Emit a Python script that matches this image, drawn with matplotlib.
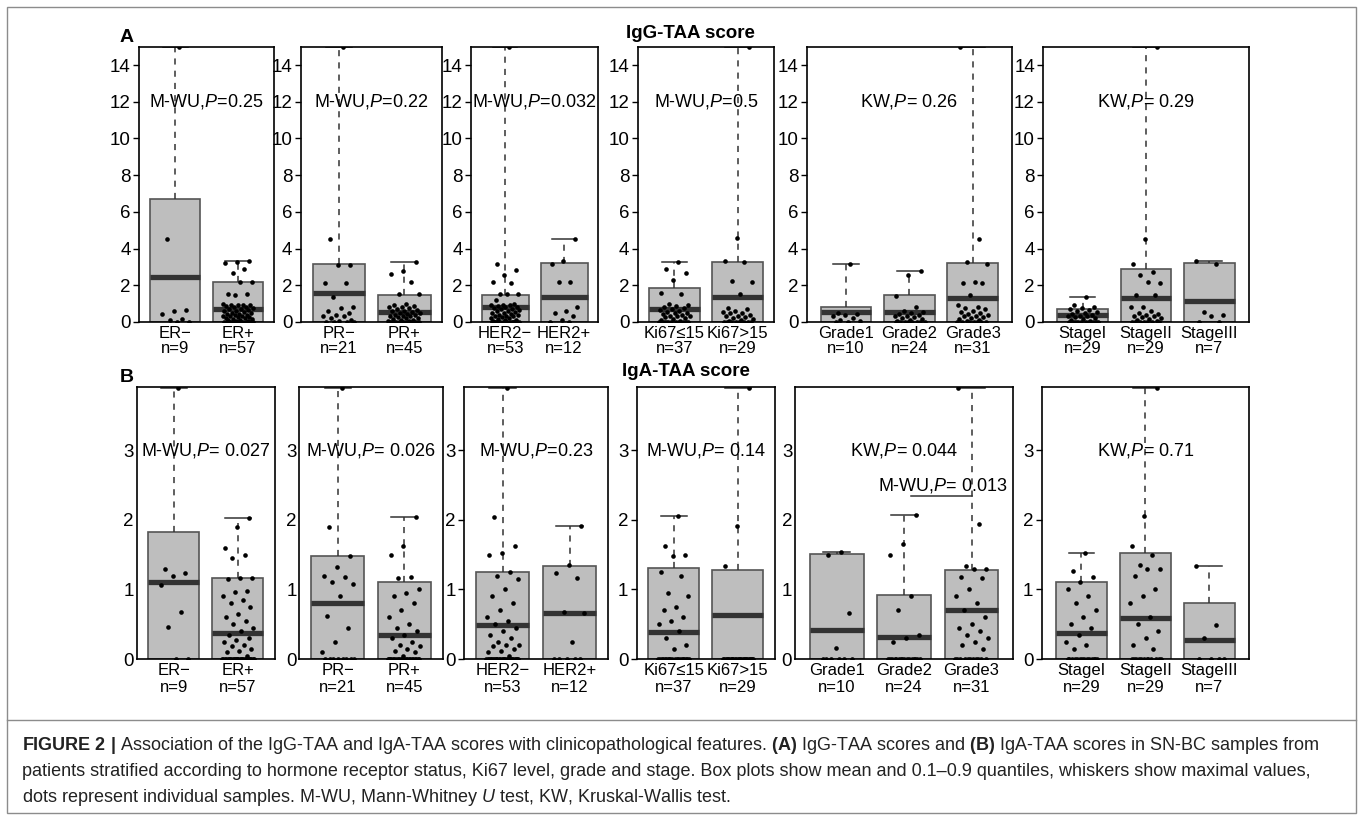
import numpy as np
import matplotlib
matplotlib.use('Agg')
import matplotlib.pyplot as plt
from matplotlib.patches import Rectangle
from matplotlib.lines import Line2D

plt.rcParams['font.family'] = ['Liberation Sans', 'DejaVu Sans']
plt.rcParams['mathtext.fontset'] = 'custom'
plt.rcParams['mathtext.rm'] = 'Liberation Sans'
plt.rcParams['mathtext.it'] = 'Liberation Sans:italic'
plt.rcParams['mathtext.bf'] = 'Liberation Sans:bold'

W, H = 1360, 815

# ---------------- data ----------------
group_labels = [["ER\u2212", "ER+"], ["PR\u2212", "PR+"], ["HER2\u2212", "HER2+"],
                ["Ki67\u226415", "Ki67>15"], ["Grade1", "Grade2", "Grade3"],
                ["StageI", "StageII", "StageIII"]]
group_n = [[9, 57], [21, 45], [53, 12], [37, 29], [10, 24, 31], [29, 29, 7]]

# IgG-TAA score: mean and 0.9 quantile of each group (0.1 quantile is 0)
igg_mean = [[2.47, 0.69], [1.56, 0.53], [0.83, 1.38], [0.69, 1.38],
            [0.56, 0.56, 1.29], [0.38, 1.29, 1.16]]
igg_q90 = [[6.68, 2.2], [3.16, 1.47], [1.47, 3.23], [1.85, 3.25],
           [0.83, 1.47, 3.19], [0.69, 2.9, 3.19]]
igg_tests = ["M-WU,$\\it{P}$=0.25", "M-WU,$\\it{P}$=0.22", "M-WU,$\\it{P}$=0.032",
             "M-WU,$\\it{P}$=0.5", "KW,$\\it{P}$= 0.26", "KW,$\\it{P}$= 0.29"]

igg_er = [[15.0, 4.5, 0.65, 0.6, 0.45, 0.15, 0.1, 0, 0],
          [3.3, 3.25, 3.2, 2.9, 2.65, 2.2, 2.2, 1.55, 1.5, 1.45, 1.0, 0.95, 0.95, 0.9, 0.9,
           0.85, 0.8, 0.8, 0.75, 0.7, 0.7, 0.65, 0.6, 0.6, 0.55, 0.5, 0.5, 0.45, 0.45, 0.4,
           0.4, 0.35, 0.3, 0.3, 0.25, 0.25, 0.2, 0.2, 0.15, 0.15, 0.1, 0.1, 0.05, 0.05,
           0, 0, 0, 0, 0, 0, 0, 0, 0, 0, 0, 0, 0]]
igg_pr = [[15.0, 4.5, 3.1, 3.1, 2.1, 2.1, 1.35, 0.8, 0.75, 0.6, 0.5, 0.4, 0.3, 0.3, 0.2,
           0.1, 0.05, 0, 0, 0, 0],
          [3.25, 2.8, 2.6, 2.2, 1.5, 1.5, 1.0, 0.9, 0.85, 0.8, 0.8, 0.75, 0.7, 0.65, 0.6,
           0.6, 0.55, 0.5, 0.5, 0.45, 0.4, 0.4, 0.35, 0.3, 0.3, 0.25, 0.2, 0.2, 0.15, 0.1,
           0.1, 0.05, 0.05, 0, 0, 0, 0, 0, 0, 0, 0, 0, 0, 0, 0]]
igg_her2 = [[15.0, 3.15, 2.85, 2.55, 2.2, 2.1, 1.55, 1.5, 1.5, 1.2, 1.0, 0.95, 0.9, 0.9,
             0.85, 0.8, 0.8, 0.75, 0.7, 0.7, 0.65, 0.6, 0.6, 0.55, 0.5, 0.5, 0.45, 0.4,
             0.4, 0.35, 0.3, 0.3, 0.25, 0.2, 0.2, 0.15, 0.1, 0.1, 0.05,
             0, 0, 0, 0, 0, 0, 0, 0, 0, 0, 0, 0, 0, 0],
            [4.5, 3.3, 3.15, 2.2, 2.2, 0.8, 0.6, 0.5, 0.3, 0.1, 0, 0]]
igg_ki67 = [[3.25, 2.9, 2.65, 2.3, 1.6, 1.5, 1.0, 0.9, 0.85, 0.8, 0.75, 0.7, 0.65, 0.6,
             0.55, 0.5, 0.5, 0.45, 0.4, 0.35, 0.3, 0.3, 0.25, 0.2, 0.15, 0.1, 0.05,
             0, 0, 0, 0, 0, 0, 0, 0, 0, 0],
            [15.0, 4.6, 3.35, 3.25, 2.25, 2.2, 1.55, 0.75, 0.7, 0.6, 0.55, 0.5, 0.5, 0.4,
             0.35, 0.3, 0.25, 0.2, 0.15, 0.1, 0.05, 0, 0, 0, 0, 0, 0, 0, 0]]
igg_grade = [[3.15, 0.5, 0.45, 0.4, 0.3, 0.2, 0.1, 0.05, 0, 0],
             [2.8, 2.55, 1.4, 0.8, 0.6, 0.55, 0.5, 0.45, 0.4, 0.35, 0.3, 0.25, 0.2, 0.15,
              0.1, 0.05, 0, 0, 0, 0, 0, 0, 0, 0],
             [15.0, 4.5, 3.25, 3.15, 2.2, 2.15, 2.15, 1.45, 0.9, 0.8, 0.75, 0.7, 0.6, 0.55,
              0.5, 0.45, 0.4, 0.35, 0.3, 0.25, 0.2, 0.15, 0.1, 0.05, 0, 0, 0, 0, 0, 0, 0]]
igg_stage = [[1.35, 0.9, 0.8, 0.75, 0.7, 0.65, 0.6, 0.55, 0.5, 0.45, 0.4, 0.35, 0.3, 0.3,
              0.25, 0.2, 0.15, 0.1, 0.05, 0, 0, 0, 0, 0, 0, 0, 0, 0, 0],
             [15.0, 4.5, 3.15, 2.7, 2.55, 2.15, 2.2, 1.45, 1.45, 0.8, 0.8, 0.6, 0.5, 0.45,
              0.4, 0.35, 0.3, 0.25, 0.2, 0.15, 0.1, 0.05, 0, 0, 0, 0, 0, 0, 0],
             [3.3, 3.15, 0.55, 0.4, 0.3, 0, 0]]
igg_points = [igg_er, igg_pr, igg_her2, igg_ki67, igg_grade, igg_stage]

# IgA-TAA score
iga_mean = [[1.10, 0.37], [0.80, 0.35], [0.49, 0.66], [0.39, 0.63],
            [0.42, 0.31, 0.70], [0.38, 0.59, 0.28]]
iga_q90 = [[1.83, 1.17], [1.48, 1.10], [1.25, 1.33], [1.31, 1.28],
           [1.51, 0.92, 1.28], [1.10, 1.52, 0.81]]
iga_tests = ["M-WU,$\\it{P}$= 0.027", "M-WU,$\\it{P}$= 0.026", "M-WU,$\\it{P}$=0.23",
             "M-WU,$\\it{P}$= 0.14", "KW,$\\it{P}$= 0.044", "KW,$\\it{P}$= 0.71"]
iga_pair_test = "M-WU,$\\it{P}$= 0.013"   # Grade2 vs Grade3
iga_pair_y = 2.35

iga_er = [[3.9, 1.3, 1.24, 1.2, 1.06, 0.67, 0.46, 0, 0],
          [2.03, 1.9, 1.6, 1.5, 1.45, 1.17, 1.16, 1.15, 0.98, 0.97, 0.9, 0.85, 0.8, 0.75,
           0.65, 0.6, 0.55, 0.5, 0.45, 0.4, 0.35, 0.3, 0.28, 0.25, 0.2, 0.18, 0.15, 0.12,
           0.1, 0.05] + [0] * 27]
iga_pr = [[3.9, 1.9, 1.48, 1.32, 1.2, 1.18, 1.1, 1.08, 0.9, 0.62, 0.45, 0.25, 0.1] + [0] * 8,
          [2.04, 1.62, 1.5, 1.18, 1.16, 1.0, 0.95, 0.9, 0.8, 0.7, 0.6, 0.5, 0.45, 0.4,
           0.35, 0.3, 0.25, 0.2, 0.18, 0.15, 0.12, 0.1, 0.05] + [0] * 22]
iga_her2 = [[3.9, 2.04, 1.62, 1.52, 1.49, 1.25, 1.2, 1.15, 1.0, 0.9, 0.8, 0.7, 0.6, 0.55,
             0.5, 0.45, 0.4, 0.35, 0.3, 0.25, 0.2, 0.2, 0.18, 0.15, 0.12, 0.1, 0.05] + [0] * 26,
            [1.91, 1.35, 1.24, 1.16, 0.67, 0.66, 0.25, 0, 0, 0, 0, 0]]
iga_ki67 = [[2.06, 1.63, 1.5, 1.48, 1.25, 1.2, 0.95, 0.9, 0.75, 0.7, 0.6, 0.55, 0.5, 0.4,
             0.3, 0.2, 0.15] + [0] * 20,
            [3.9, 1.91, 1.33] + [0] * 26]
iga_grade = [[1.54, 1.5, 0.66, 0.16, 0, 0, 0, 0, 0, 0],
             [2.07, 1.65, 1.5, 0.9, 0.7, 0.35, 0.3, 0.25] + [0] * 16,
             [3.9, 1.94, 1.33, 1.3, 1.3, 1.18, 1.17, 1.0, 0.9, 0.8, 0.7, 0.6, 0.5, 0.45,
              0.4, 0.35, 0.3, 0.25, 0.2, 0.15] + [0] * 11]
iga_stage = [[1.53, 1.27, 1.18, 1.1, 1.0, 0.9, 0.8, 0.7, 0.6, 0.5, 0.45, 0.35, 0.25, 0.2,
              0.15] + [0] * 14,
             [3.9, 2.06, 1.63, 1.5, 1.35, 1.3, 1.3, 1.2, 1.0, 0.9, 0.8, 0.6, 0.5, 0.4,
              0.3, 0.2, 0.15] + [0] * 12,
             [1.33, 0.49, 0.3, 0, 0, 0, 0]]
iga_points = [iga_er, iga_pr, iga_her2, iga_ki67, iga_grade, iga_stage]

caption = [
    r"$\bf{FIGURE\ 2\ |}$ Association of the IgG-TAA and IgA-TAA scores with clinicopathological "
    r"features. $\bf{(A)}$ IgG-TAA scores and $\bf{(B)}$ IgA-TAA scores in SN-BC samples from",
    "patients stratified according to hormone receptor status, Ki67 level, grade and stage. "
    "Box plots show mean and 0.1\u20130.9 quantiles, whiskers show maximal values,",
    r"dots represent individual samples. M-WU, Mann-Whitney $\it{U}$ test, KW, Kruskal-Wallis test.",
]

# ---------------- layout (pixels) ----------------
row_a = (46.7, 322)
row_b = (387, 659)
cols_a = [(139, 274.3), (300.7, 442.3), (471, 598.3), (637.7, 774.3), (806.7, 1012), (1043.3, 1248.7)]
cols_b = [(136.7, 275), (299.3, 442.7), (464, 608.3), (636.7, 775), (795, 1013.3), (1041.7, 1249)]


def px_axes(fig, left, top, right, bottom):
    return fig.add_axes([left / W, 1 - bottom / H, (right - left) / W, (bottom - top) / H])


def draw_panel(ax, pts, means, q90s, ymax, labels, ns, test, test_y, ticks, tick_len, lsp):
    k = len(pts)
    for i in range(k):
        x = i + 1
        vals = np.array(pts[i], dtype=float)
        mx = vals.max()
        ax.add_patch(Rectangle((x - 0.4, 0), 0.8, q90s[i], fc='#bebebe', ec='#555555',
                               lw=1.2, zorder=2))
        ax.plot([x - 0.4, x + 0.4], [means[i]] * 2, color='#333333', lw=3.8,
                solid_capstyle='butt', zorder=3)
        if mx > q90s[i]:
            ax.plot([x, x], [q90s[i], mx], color='#333333', lw=1.1, ls=(0, (4, 4)), zorder=2)
            ax.plot([x - 0.2, x + 0.2], [mx, mx], color='#333333', lw=1.1, zorder=2)
        jit = (((np.arange(len(vals)) + 1 + 2 * i) * 0.618034) % 1 - 0.5) * 0.5
        ax.scatter(x + jit, vals, s=11, color='black', lw=0, zorder=4)
    ext = 0.04 * k
    ax.set_xlim(0.5 - ext, k + 0.5 + ext)
    ax.set_ylim(0, ymax)
    ax.set_xticks(range(1, k + 1))
    ax.set_xticklabels([f"{l}\nn={n}" for l, n in zip(labels, ns)], linespacing=lsp)
    ax.set_yticks(ticks)
    ax.tick_params(axis='x', length=0, pad=3, labelsize=12)
    ax.tick_params(axis='y', length=tick_len, width=1, pad=2, labelsize=13.5)
    for s in ax.spines.values():
        s.set_linewidth(1.2)
    ax.text(0.5, test_y, test, transform=ax.get_yaxis_transform(), ha='center',
            va='center', fontsize=13, zorder=5)


fig = plt.figure(figsize=(W / 100, H / 100), dpi=100)

for p in range(6):
    ax = px_axes(fig, cols_a[p][0], row_a[0], cols_a[p][1], row_a[1])
    draw_panel(ax, igg_points[p], igg_mean[p], igg_q90[p], 15, group_labels[p], group_n[p],
               igg_tests[p], 12.0, range(0, 15, 2), 4, 1.0)

b_tick_len = [0, 0, 4, 4, 0, 4]
for p in range(6):
    ax = px_axes(fig, cols_b[p][0], row_b[0], cols_b[p][1], row_b[1])
    draw_panel(ax, iga_points[p], iga_mean[p], iga_q90[p], 3.91, group_labels[p], group_n[p],
               iga_tests[p], 3.0, [0, 1, 2, 3], b_tick_len[p], 1.15)
    if p == 4:
        ax.plot([2.1, 3.0], [iga_pair_y, iga_pair_y], color='#333333', lw=1.1, zorder=5)
        ax.text(2.58, iga_pair_y + 0.14, iga_pair_test, ha='center', va='center',
                fontsize=13, zorder=5)

# titles and panel letters
fig.text(690 / W, 1 - 33 / H, "IgG-TAA score", ha='center', va='center', fontsize=13.5,
         fontweight='bold')
fig.text(686 / W, 1 - 371 / H, "IgA-TAA score", ha='center', va='center', fontsize=13.5,
         fontweight='bold')
fig.text(127 / W, 1 - 38 / H, "A", ha='center', va='center', fontsize=14, fontweight='bold')
fig.text(127 / W, 1 - 378 / H, "B", ha='center', va='center', fontsize=14, fontweight='bold')

# caption
for j, line in enumerate(caption):
    fig.text(22 / W, 1 - (745 + 26.5 * j) / H, line, ha='left', va='center', fontsize=13,
             color='#222222')

# frame
fig.add_artist(Rectangle((7 / W, 1 - 813 / H), (1356 - 7) / W, (813 - 7) / H,
                         transform=fig.transFigure, fill=False, ec='#8c8c8c', lw=1))
fig.add_artist(Line2D([7 / W, 1356 / W], [1 - 720 / H] * 2, transform=fig.transFigure,
                      color='#8c8c8c', lw=1))

fig.savefig('out.png', dpi=100)
